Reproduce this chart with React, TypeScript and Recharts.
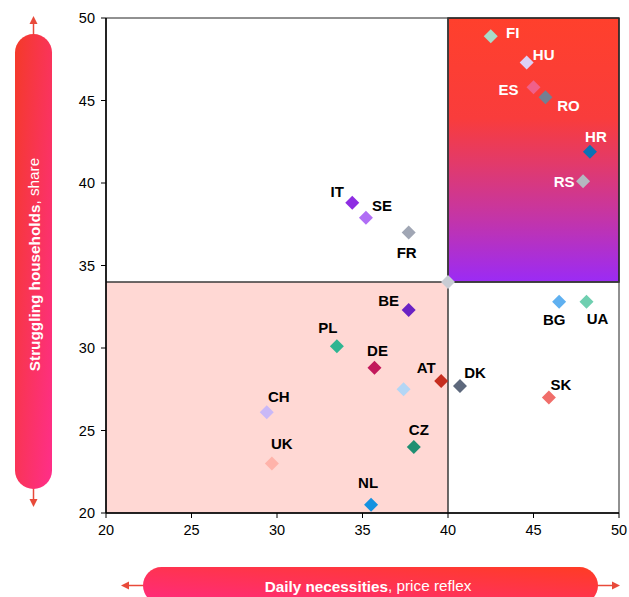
import { ScatterChart, Scatter, XAxis, YAxis, ReferenceArea, ReferenceLine, Cell } from 'recharts';

const countries = ['FI', 'HU', 'ES', 'RO', 'HR', 'RS', 'IT', 'SE', 'FR', '', 'BE', 'PL', 'DE', 'AT', '', 'DK', 'CH', 'UK', 'CZ', 'NL', 'BG', 'UA', 'SK'];
const priceReflex = [42.5, 44.6, 45.0, 45.7, 48.3, 47.9, 34.4, 35.2, 37.7, 40.0, 37.7, 33.5, 35.7, 39.6, 37.4, 40.7, 29.4, 29.7, 38.0, 35.5, 46.5, 48.1, 45.9];
const strugglingShare = [48.9, 47.3, 45.8, 45.2, 41.9, 40.1, 38.8, 37.9, 37.0, 34.0, 32.3, 30.1, 28.8, 28.0, 27.5, 27.7, 26.1, 23.0, 24.0, 20.5, 32.8, 32.8, 27.0];
const pointColors = [
  '#a8dcc8', '#ddd0f5', '#f0608a', '#737f92', '#0b72b5', '#b4b8c0', '#8e2de2', '#b06ef5', '#a0a6b4', '#c8ccd4', '#6a22c4', '#2fb592',
  '#c2185b', '#c62d1f', '#b3d6f5', '#5d687c', '#c9b8f7', '#ffb3aa', '#1f8f72', '#1592e0', '#5fb0f0', '#6fcfb0', '#f06e6a',
];
const xTicks = [20, 25, 30, 35, 40, 45, 50];
const yTicks = [20, 25, 30, 35, 40, 45, 50];
const xSplit = 40;
const ySplit = 34;

// label placement around each diamond (px)
const labelOffset: Record<string, [number, number]> = {
  FI: [22, -4], HU: [17, -8], ES: [-25, 2], RO: [23, 8], HR: [6, -15], RS: [-19, 0],
  IT: [-15, -11], SE: [16, -12], FR: [-2, 20], BE: [-20, -10], PL: [-9, -19], DE: [3, -17],
  AT: [-15, -14], DK: [15, -13], CH: [12, -16], UK: [10, -20], CZ: [5, -18], NL: [-3, -22],
  BG: [-5, 18], UA: [11, 17], SK: [12, -13],
};

const FONT = '"Liberation Sans", Arial, sans-serif';

const data = countries.map((code, i) => ({ code, x: priceReflex[i], y: strugglingShare[i] }));

const Diamond = (props: any) => {
  const { cx, cy, fill, payload } = props;
  const r = 7;
  const off = labelOffset[payload.code];
  const inHot = payload.x > xSplit && payload.y > ySplit;
  return (
    <g>
      <polygon points={`${cx},${cy - r} ${cx + r},${cy} ${cx},${cy + r} ${cx - r},${cy}`} fill={fill} />
      {payload.code && off && (
        <text
          x={cx + off[0]}
          y={cy + off[1]}
          textAnchor="middle"
          dominantBaseline="central"
          fontFamily={FONT}
          fontWeight="bold"
          fontSize={15}
          fill={inHot ? '#ffffff' : '#000000'}
        >
          {payload.code}
        </text>
      )}
    </g>
  );
};

const Overlay = () => (
  <svg width={629} height={597} style={{ position: 'absolute', left: 0, top: 0, pointerEvents: 'none' }}>
    <defs>
      <linearGradient id="pillLeft" x1="0" y1="0" x2="1" y2="1">
        <stop offset="0%" stopColor="#f43a28" />
        <stop offset="100%" stopColor="#ff2e8a" />
      </linearGradient>
      <linearGradient id="pillBottom" x1="1" y1="0" x2="0" y2="1">
        <stop offset="0%" stopColor="#ff3c24" />
        <stop offset="100%" stopColor="#ff2a80" />
      </linearGradient>
    </defs>
    {/* vertical pill */}
    <line x1={33.5} y1={22} x2={33.5} y2={36} stroke="#e84a3a" strokeWidth={1.5} />
    <polygon points="33.5,16 29.5,24 37.5,24" fill="#e84a3a" />
    <line x1={33.5} y1={486} x2={33.5} y2={501} stroke="#e84a3a" strokeWidth={1.5} />
    <polygon points="33.5,507 29.5,499 37.5,499" fill="#e84a3a" />
    <rect x={15} y={34} width={37} height={455} rx={18.5} fill="url(#pillLeft)" />
    <text
      x={33.5}
      y={264.5}
      transform="rotate(-90, 33.5, 264.5)"
      textAnchor="middle"
      dominantBaseline="central"
      fontFamily={FONT}
      fontSize={15.3}
      fill="#ffffff"
    >
      <tspan fontWeight="bold">Struggling households</tspan>, share
    </text>
    {/* horizontal pill */}
    <line x1={127} y1={585.5} x2={145} y2={585.5} stroke="#e84a3a" strokeWidth={1.5} />
    <polygon points="121,585.5 129,581.5 129,589.5" fill="#e84a3a" />
    <line x1={595} y1={585.5} x2={614} y2={585.5} stroke="#e84a3a" strokeWidth={1.5} />
    <polygon points="620,585.5 612,581.5 612,589.5" fill="#e84a3a" />
    <rect x={143} y={567} width={455} height={37} rx={18.5} fill="url(#pillBottom)" />
    <text x={368} y={585.5} textAnchor="middle" dominantBaseline="central" fontFamily={FONT} fontSize={15.3} fill="#ffffff">
      <tspan fontWeight="bold">Daily necessities</tspan>, price reflex
    </text>
  </svg>
);

export default function App() {
  return (
    <div style={{ position: 'absolute', left: 0, top: 0, width: 629, height: 597, overflow: 'hidden', background: '#fff' }}>
      <ScatterChart width={629} height={597} margin={{ top: 18, right: 10, bottom: 54, left: 46 }}>
        <defs>
          <linearGradient id="hotZone" x1="0" y1="0" x2="0" y2="1">
            <stop offset="0%" stopColor="#ff402c" />
            <stop offset="38%" stopColor="#f93c3c" />
            <stop offset="55%" stopColor="#e23a6a" />
            <stop offset="75%" stopColor="#c535a5" />
            <stop offset="100%" stopColor="#9b2bf5" />
          </linearGradient>
        </defs>
        <XAxis
          type="number"
          dataKey="x"
          domain={[20, 50]}
          ticks={xTicks}
          height={30}
          tickSize={5}
          tickMargin={7}
          axisLine={{ stroke: '#000', strokeWidth: 1.5 }}
          tickLine={{ stroke: '#000' }}
          tick={{ fill: '#000', fontSize: 14.5, fontFamily: FONT }}
        />
        <YAxis
          type="number"
          dataKey="y"
          domain={[20, 50]}
          ticks={yTicks}
          width={60}
          tickSize={5}
          tickMargin={6}
          axisLine={{ stroke: '#000', strokeWidth: 1.5 }}
          tickLine={{ stroke: '#000' }}
          tick={{ fill: '#000', fontSize: 14.5, fontFamily: FONT }}
        />
        <ReferenceArea x1={20} x2={xSplit} y1={20} y2={ySplit} fill="#ffd8d4" fillOpacity={1} />
        <ReferenceArea x1={xSplit} x2={50} y1={ySplit} y2={50} fill="url(#hotZone)" fillOpacity={1} stroke="#333" strokeWidth={1.5} />
        <ReferenceArea x1={20} x2={50} y1={20} y2={50} fill="none" stroke="#222" strokeWidth={1} />
        <ReferenceLine x={xSplit} stroke="#3a3a3a" strokeWidth={1.5} />
        <ReferenceLine y={ySplit} stroke="#3a3a3a" strokeWidth={1.5} />
        <Scatter data={data} shape={(p: any) => <Diamond {...p} />} isAnimationActive={false}>
          {data.map((d, i) => (
            <Cell key={i} fill={pointColors[i]} />
          ))}
        </Scatter>
      </ScatterChart>
      <Overlay />
    </div>
  );
}
